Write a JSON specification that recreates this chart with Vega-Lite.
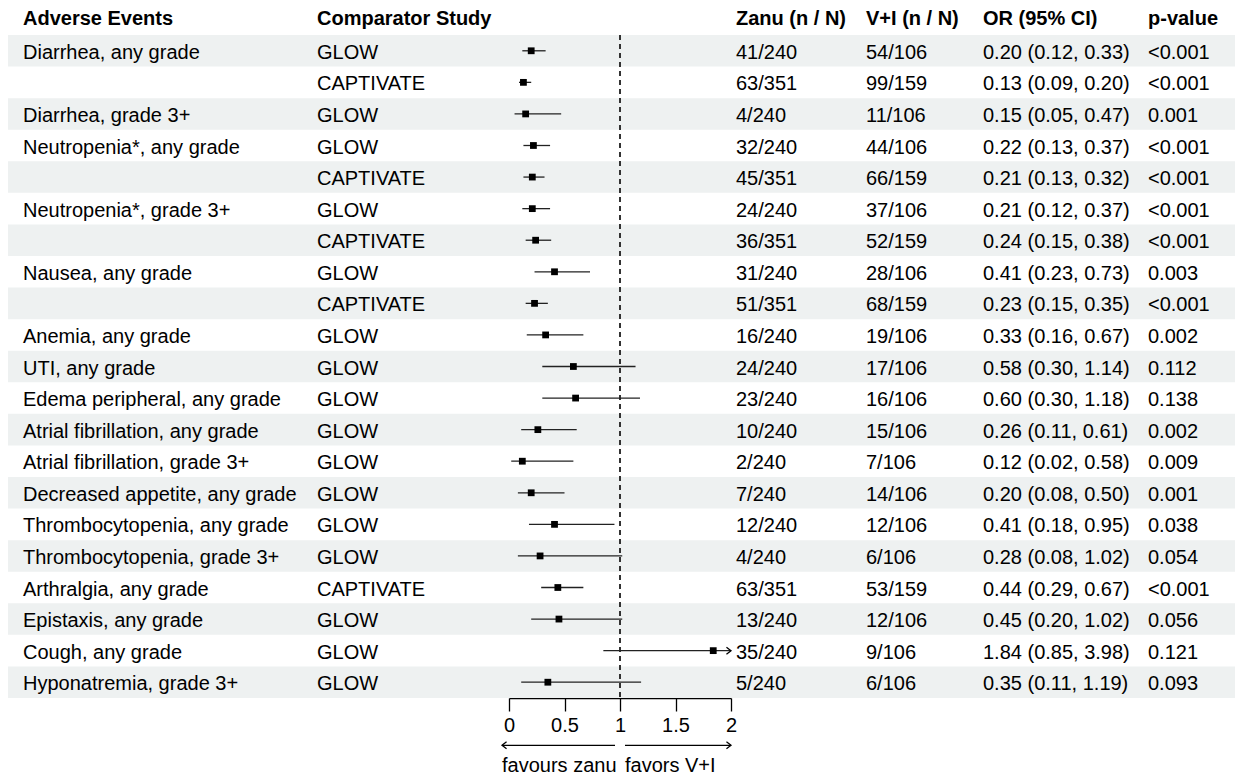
{
  "$schema": "https://vega.github.io/schema/vega-lite/v6.json",
  "autosize": {"type": "pad"},
  "padding": {"left": 8, "top": 9, "right": 0, "bottom": 0},
  "background": "white",
  "bounds": "flush",
  "spacing": 0,
  "config": {
    "view": {"stroke": null},
    "font": "Liberation Sans",
    "text": {"font": "Liberation Sans", "fontSize": 20, "color": "#000"},
    "title": {"font": "Liberation Sans", "fontSize": 20, "fontWeight": "bold", "anchor": "start", "frame": "group", "color": "#000", "baseline": "alphabetic", "offset": 6},
    "axis": {"grid": false, "domainColor": "#000", "tickColor": "#000", "labelColor": "#000", "labelFont": "Liberation Sans", "labelFontSize": 20, "domainWidth": 1.3, "tickWidth": 1.3, "tickSize": 13, "labelPadding": 4, "labelFlush": false}
  },
  "data": {"values": [
    {"row": 1, "event": "Diarrhea, any grade", "study": "GLOW", "zanu": "41/240", "vi": "54/106", "or": 0.20, "lo": 0.12, "hi": 0.33, "orci": "0.20 (0.12, 0.33)", "p": "<0.001"},
    {"row": 2, "event": "", "study": "CAPTIVATE", "zanu": "63/351", "vi": "99/159", "or": 0.13, "lo": 0.09, "hi": 0.20, "orci": "0.13 (0.09, 0.20)", "p": "<0.001"},
    {"row": 3, "event": "Diarrhea, grade 3+", "study": "GLOW", "zanu": "4/240", "vi": "11/106", "or": 0.15, "lo": 0.05, "hi": 0.47, "orci": "0.15 (0.05, 0.47)", "p": "0.001"},
    {"row": 4, "event": "Neutropenia*, any grade", "study": "GLOW", "zanu": "32/240", "vi": "44/106", "or": 0.22, "lo": 0.13, "hi": 0.37, "orci": "0.22 (0.13, 0.37)", "p": "<0.001"},
    {"row": 5, "event": "", "study": "CAPTIVATE", "zanu": "45/351", "vi": "66/159", "or": 0.21, "lo": 0.13, "hi": 0.32, "orci": "0.21 (0.13, 0.32)", "p": "<0.001"},
    {"row": 6, "event": "Neutropenia*, grade 3+", "study": "GLOW", "zanu": "24/240", "vi": "37/106", "or": 0.21, "lo": 0.12, "hi": 0.37, "orci": "0.21 (0.12, 0.37)", "p": "<0.001"},
    {"row": 7, "event": "", "study": "CAPTIVATE", "zanu": "36/351", "vi": "52/159", "or": 0.24, "lo": 0.15, "hi": 0.38, "orci": "0.24 (0.15, 0.38)", "p": "<0.001"},
    {"row": 8, "event": "Nausea, any grade", "study": "GLOW", "zanu": "31/240", "vi": "28/106", "or": 0.41, "lo": 0.23, "hi": 0.73, "orci": "0.41 (0.23, 0.73)", "p": "0.003"},
    {"row": 9, "event": "", "study": "CAPTIVATE", "zanu": "51/351", "vi": "68/159", "or": 0.23, "lo": 0.15, "hi": 0.35, "orci": "0.23 (0.15, 0.35)", "p": "<0.001"},
    {"row": 10, "event": "Anemia, any grade", "study": "GLOW", "zanu": "16/240", "vi": "19/106", "or": 0.33, "lo": 0.16, "hi": 0.67, "orci": "0.33 (0.16, 0.67)", "p": "0.002"},
    {"row": 11, "event": "UTI, any grade", "study": "GLOW", "zanu": "24/240", "vi": "17/106", "or": 0.58, "lo": 0.30, "hi": 1.14, "orci": "0.58 (0.30, 1.14)", "p": "0.112"},
    {"row": 12, "event": "Edema peripheral, any grade", "study": "GLOW", "zanu": "23/240", "vi": "16/106", "or": 0.60, "lo": 0.30, "hi": 1.18, "orci": "0.60 (0.30, 1.18)", "p": "0.138"},
    {"row": 13, "event": "Atrial fibrillation, any grade", "study": "GLOW", "zanu": "10/240", "vi": "15/106", "or": 0.26, "lo": 0.11, "hi": 0.61, "orci": "0.26 (0.11, 0.61)", "p": "0.002"},
    {"row": 14, "event": "Atrial fibrillation, grade 3+", "study": "GLOW", "zanu": "2/240", "vi": "7/106", "or": 0.12, "lo": 0.02, "hi": 0.58, "orci": "0.12 (0.02, 0.58)", "p": "0.009"},
    {"row": 15, "event": "Decreased appetite, any grade", "study": "GLOW", "zanu": "7/240", "vi": "14/106", "or": 0.20, "lo": 0.08, "hi": 0.50, "orci": "0.20 (0.08, 0.50)", "p": "0.001"},
    {"row": 16, "event": "Thrombocytopenia, any grade", "study": "GLOW", "zanu": "12/240", "vi": "12/106", "or": 0.41, "lo": 0.18, "hi": 0.95, "orci": "0.41 (0.18, 0.95)", "p": "0.038"},
    {"row": 17, "event": "Thrombocytopenia, grade 3+", "study": "GLOW", "zanu": "4/240", "vi": "6/106", "or": 0.28, "lo": 0.08, "hi": 1.02, "orci": "0.28 (0.08, 1.02)", "p": "0.054"},
    {"row": 18, "event": "Arthralgia, any grade", "study": "CAPTIVATE", "zanu": "63/351", "vi": "53/159", "or": 0.44, "lo": 0.29, "hi": 0.67, "orci": "0.44 (0.29, 0.67)", "p": "<0.001"},
    {"row": 19, "event": "Epistaxis, any grade", "study": "GLOW", "zanu": "13/240", "vi": "12/106", "or": 0.45, "lo": 0.20, "hi": 1.02, "orci": "0.45 (0.20, 1.02)", "p": "0.056"},
    {"row": 20, "event": "Cough, any grade", "study": "GLOW", "zanu": "35/240", "vi": "9/106", "or": 1.84, "lo": 0.85, "hi": 3.98, "orci": "1.84 (0.85, 3.98)", "p": "0.121"},
    {"row": 21, "event": "Hyponatremia, grade 3+", "study": "GLOW", "zanu": "5/240", "vi": "6/106", "or": 0.35, "lo": 0.11, "hi": 1.19, "orci": "0.35 (0.11, 1.19)", "p": "0.093"}
  ]},
  "hconcat": [
    {
      "width": 302, "height": 663,
      "title": {"text": "Adverse Events", "dx": 15},
      "resolve": {"scale": {"y": "independent"}},
      "layer": [
        {"transform": [{"filter": "datum.row % 2 == 1"}], "mark": {"type": "rect", "color": "#eef1f1"},
         "encoding": {"y": {"field": "row", "type": "ordinal", "scale": {"domain": [1,2,3,4,5,6,7,8,9,10,11,12,13,14,15,16,17,18,19,20,21], "paddingInner": 0, "paddingOuter": 0}, "axis": null}}},
        {"mark": {"type": "text", "align": "left", "baseline": "middle", "dx": 15, "dy": 2},
         "encoding": {"x": {"value": 0}, "y": {"field": "row", "type": "quantitative", "scale": {"domain": [0.5, 21.5], "reverse": true, "nice": false, "zero": false}, "axis": null}, "text": {"field": "event"}}}
      ]
    },
    {
      "width": 199, "height": 663,
      "title": {"text": "Comparator Study", "dx": 7},
      "resolve": {"scale": {"y": "independent"}},
      "layer": [
        {"transform": [{"filter": "datum.row % 2 == 1"}], "mark": {"type": "rect", "color": "#eef1f1"},
         "encoding": {"y": {"field": "row", "type": "ordinal", "scale": {"domain": [1,2,3,4,5,6,7,8,9,10,11,12,13,14,15,16,17,18,19,20,21], "paddingInner": 0, "paddingOuter": 0}, "axis": null}}},
        {"mark": {"type": "text", "align": "left", "baseline": "middle", "dx": 7, "dy": 2},
         "encoding": {"x": {"value": 0}, "y": {"field": "row", "type": "quantitative", "scale": {"domain": [0.5, 21.5], "reverse": true, "nice": false, "zero": false}, "axis": null}, "text": {"field": "study"}}}
      ]
    },
    {
      "width": 222, "height": 663,
      "resolve": {"scale": {"y": "independent"}},
      "layer": [
        {"transform": [{"filter": "datum.row % 2 == 1"}], "mark": {"type": "rect", "color": "#eef1f1"},
         "encoding": {"y": {"field": "row", "type": "ordinal", "scale": {"domain": [1,2,3,4,5,6,7,8,9,10,11,12,13,14,15,16,17,18,19,20,21], "paddingInner": 0, "paddingOuter": 0}, "axis": null}}},
        {"layer": [
          {"mark": {"type": "rule", "strokeDash": [5, 4], "color": "#333", "strokeWidth": 1.3},
           "encoding": {"x": {"datum": 1, "type": "quantitative", "scale": {"domain": [0, 2], "nice": false, "zero": false},
             "axis": {"values": [0, 0.5, 1, 1.5, 2], "format": "~g", "title": null}}}},
          {"mark": {"type": "rule", "clip": true, "color": "#222", "strokeWidth": 1.3},
           "encoding": {"x": {"field": "lo", "type": "quantitative"}, "x2": {"field": "hi"}, "y": {"field": "row", "type": "quantitative", "scale": {"domain": [0.5, 21.5], "reverse": true, "nice": false, "zero": false}, "axis": null}}},
          {"mark": {"type": "point", "shape": "square", "filled": true, "color": "#000", "opacity": 1, "size": 46},
           "encoding": {"x": {"field": "or", "type": "quantitative"}, "y": {"field": "row", "type": "quantitative"}}},
          {"transform": [{"filter": "datum.hi > 2"}],
           "mark": {"type": "point", "shape": "M-1.3,-1L0,0L-1.3,1", "filled": false, "color": "#000", "strokeWidth": 1.3, "opacity": 1, "size": 49},
           "encoding": {"x": {"datum": 2, "type": "quantitative"}, "y": {"field": "row", "type": "quantitative"}}},
          {"data": {"values": [{"a": 1}]},
           "layer": [
             {"mark": {"type": "rule", "color": "#000", "strokeWidth": 1.3},
              "encoding": {"x": {"datum": 0.955, "type": "quantitative"}, "x2": {"datum": -0.063}, "y": {"datum": 23.0, "type": "quantitative"}}},
             {"mark": {"type": "point", "shape": "M1.3,-1L0,0L1.3,1", "filled": false, "color": "#000", "strokeWidth": 1.3, "opacity": 1, "size": 49},
              "encoding": {"x": {"datum": -0.063, "type": "quantitative"}, "y": {"datum": 23.0, "type": "quantitative"}}},
             {"mark": {"type": "rule", "color": "#000", "strokeWidth": 1.3},
              "encoding": {"x": {"datum": 1.045, "type": "quantitative"}, "x2": {"datum": 2.0}, "y": {"datum": 23.0, "type": "quantitative"}}},
             {"mark": {"type": "point", "shape": "M-1.3,-1L0,0L-1.3,1", "filled": false, "color": "#000", "strokeWidth": 1.3, "opacity": 1, "size": 49},
              "encoding": {"x": {"datum": 2.0, "type": "quantitative"}, "y": {"datum": 23.0, "type": "quantitative"}}},
             {"mark": {"type": "text", "align": "left", "baseline": "middle"},
              "encoding": {"x": {"datum": -0.063, "type": "quantitative"}, "y": {"datum": 23.65, "type": "quantitative"}, "text": {"value": "favours zanu"}}},
             {"mark": {"type": "text", "align": "left", "baseline": "middle"},
              "encoding": {"x": {"datum": 1.045, "type": "quantitative"}, "y": {"datum": 23.65, "type": "quantitative"}, "text": {"value": "favors V+I"}}}
           ]
          }
        ]}
      ]
    },
    {
      "width": 130, "height": 663,
      "title": {"text": "Zanu (n / N)", "dx": 5},
      "resolve": {"scale": {"y": "independent"}},
      "layer": [
        {"transform": [{"filter": "datum.row % 2 == 1"}], "mark": {"type": "rect", "color": "#eef1f1"},
         "encoding": {"y": {"field": "row", "type": "ordinal", "scale": {"domain": [1,2,3,4,5,6,7,8,9,10,11,12,13,14,15,16,17,18,19,20,21], "paddingInner": 0, "paddingOuter": 0}, "axis": null}}},
        {"mark": {"type": "text", "align": "left", "baseline": "middle", "dx": 5, "dy": 2},
         "encoding": {"x": {"value": 0}, "y": {"field": "row", "type": "quantitative", "scale": {"domain": [0.5, 21.5], "reverse": true, "nice": false, "zero": false}, "axis": null}, "text": {"field": "zanu"}}}
      ]
    },
    {
      "width": 117, "height": 663,
      "title": {"text": "V+I (n / N)", "dx": 5},
      "resolve": {"scale": {"y": "independent"}},
      "layer": [
        {"transform": [{"filter": "datum.row % 2 == 1"}], "mark": {"type": "rect", "color": "#eef1f1"},
         "encoding": {"y": {"field": "row", "type": "ordinal", "scale": {"domain": [1,2,3,4,5,6,7,8,9,10,11,12,13,14,15,16,17,18,19,20,21], "paddingInner": 0, "paddingOuter": 0}, "axis": null}}},
        {"mark": {"type": "text", "align": "left", "baseline": "middle", "dx": 5, "dy": 2},
         "encoding": {"x": {"value": 0}, "y": {"field": "row", "type": "quantitative", "scale": {"domain": [0.5, 21.5], "reverse": true, "nice": false, "zero": false}, "axis": null}, "text": {"field": "vi"}}}
      ]
    },
    {
      "width": 165, "height": 663,
      "title": {"text": "OR (95% CI)", "dx": 5},
      "resolve": {"scale": {"y": "independent"}},
      "layer": [
        {"transform": [{"filter": "datum.row % 2 == 1"}], "mark": {"type": "rect", "color": "#eef1f1"},
         "encoding": {"y": {"field": "row", "type": "ordinal", "scale": {"domain": [1,2,3,4,5,6,7,8,9,10,11,12,13,14,15,16,17,18,19,20,21], "paddingInner": 0, "paddingOuter": 0}, "axis": null}}},
        {"mark": {"type": "text", "align": "left", "baseline": "middle", "dx": 5, "dy": 2},
         "encoding": {"x": {"value": 0}, "y": {"field": "row", "type": "quantitative", "scale": {"domain": [0.5, 21.5], "reverse": true, "nice": false, "zero": false}, "axis": null}, "text": {"field": "orci"}}}
      ]
    },
    {
      "width": 92, "height": 663,
      "title": {"text": "p-value", "dx": 5},
      "resolve": {"scale": {"y": "independent"}},
      "layer": [
        {"transform": [{"filter": "datum.row % 2 == 1"}], "mark": {"type": "rect", "color": "#eef1f1"},
         "encoding": {"y": {"field": "row", "type": "ordinal", "scale": {"domain": [1,2,3,4,5,6,7,8,9,10,11,12,13,14,15,16,17,18,19,20,21], "paddingInner": 0, "paddingOuter": 0}, "axis": null}}},
        {"mark": {"type": "text", "align": "left", "baseline": "middle", "dx": 5, "dy": 2},
         "encoding": {"x": {"value": 0}, "y": {"field": "row", "type": "quantitative", "scale": {"domain": [0.5, 21.5], "reverse": true, "nice": false, "zero": false}, "axis": null}, "text": {"field": "p"}}}
      ]
    }
  ]
}
